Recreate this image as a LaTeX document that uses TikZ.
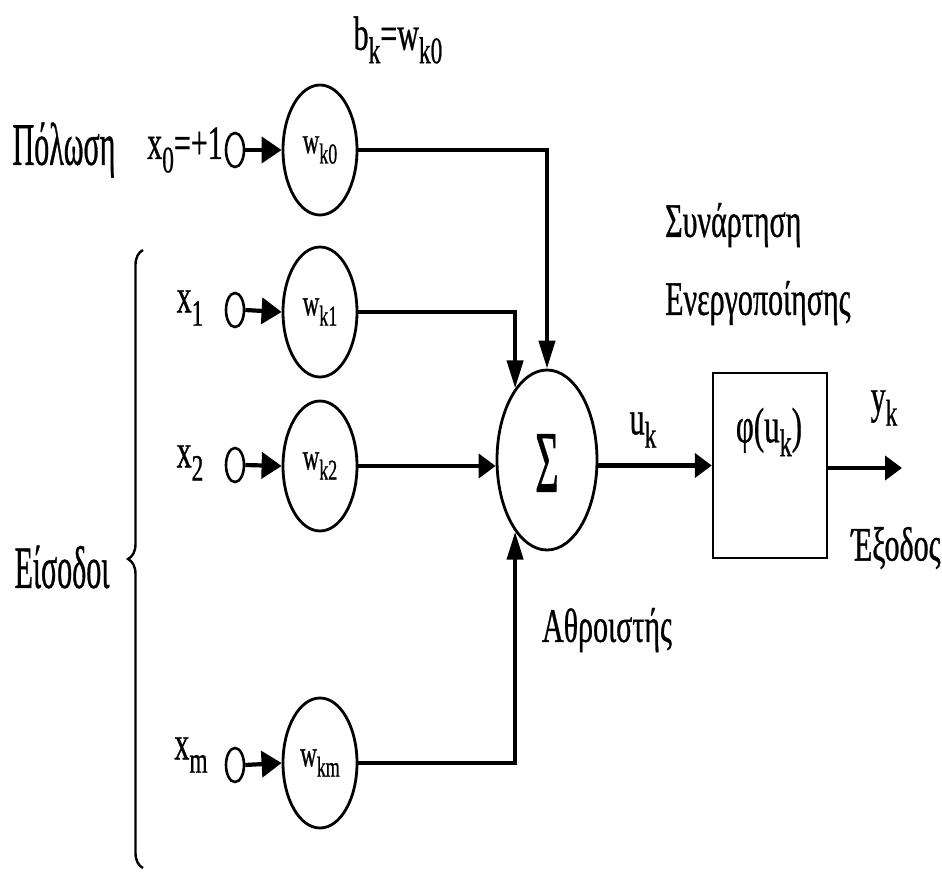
\documentclass[tikz,border=0pt]{standalone}
\usepackage{fontspec}
\setmainfont[FakeBold=0.9]{Liberation Serif}
\usepackage{graphicx}
\usetikzlibrary{shapes.geometric,arrows.meta,decorations.pathreplacing}
\newcommand{\vs}[1]{\scalebox{1}[1.6]{#1}}
\newcommand{\vt}[1]{\scalebox{1}[2.0]{#1}}
\newcommand{\sbs}[1]{\raisebox{-0.28em}{\scalebox{0.78}{#1}}}
\begin{document}
\begin{tikzpicture}[x=1pt,y=-1pt,
  lbl/.style={font=\fontsize{30}{30}\selectfont, inner sep=0pt},
  wnode/.style={ellipse, draw, line width=2.8pt, minimum width=74pt, minimum height=130pt, inner sep=0pt, font=\fontsize{23}{23}\selectfont},
  inp/.style={ellipse, draw, line width=2.6pt, minimum width=18pt, minimum height=34pt, inner sep=0pt},
  conn/.style={line width=4.2pt},
  harr/.style={conn, -{Triangle[length=17pt,width=24pt]}},
  iarr/.style={conn, -{Triangle[length=20pt,width=26pt]}},
  varr/.style={conn, -{Triangle[length=28pt,width=16pt]}},
]
\useasboundingbox (0,0) rectangle (942,873);
% bias row
\node[lbl] (pol) at (64,150) {\vt{Πόλωση}};
\node[lbl] (x0) at (185,150) {\vs{x\sbs{0}=+1}};
\node[inp] (s0) at (235,150) {};
\node[wnode] (w0) at (320,150) {\vs{w\sbs{k0}}};
\node[lbl] (bk) at (398,40) {\vs{b\sbs{k}=w\sbs{k0}}};
% inputs
\node[lbl] (x1) at (190,308) {\vs{x\sbs{1}}};
\node[inp] (s1) at (235,310) {};
\node[wnode] (w1) at (320,312) {\vs{w\sbs{k1}}};
\node[lbl] (x2) at (190,463) {\vs{x\sbs{2}}};
\node[inp] (s2) at (235,465) {};
\node[wnode] (w2) at (320,466) {\vs{w\sbs{k2}}};
\node[lbl] (xm) at (191,755) {\vs{x\sbs{m}}};
\node[inp] (sm) at (235,765) {};
\node[wnode] (wm) at (320,763) {\vs{w\sbs{km}}};
% summation
\node[ellipse, draw, line width=2.8pt, minimum width=100pt, minimum height=180pt, inner sep=0pt] (sum) at (547,460) {};
\node[lbl, font=\fontsize{40}{40}\selectfont] (sig) at (547,463) {\scalebox{1}[2.2]{Σ}};
\node[lbl] (uk) at (643,430) {\vs{u\sbs{k}}};
% activation
\node[draw, line width=2.4pt, minimum width=114pt, minimum height=185pt, inner sep=0pt] (phi) at (770,465.5) {};
\node[lbl, font=\fontsize{31}{31}\selectfont] (phit) at (769,432) {\vs{φ(u\sbs{k})}};
\node[lbl] (yk) at (884,408) {\vs{y\sbs{k}}};
\coordinate (out) at (902,468);
\node[lbl] (exo) at (896,548) {\vs{Έξοδος}};
\node[lbl] (athr) at (607,630) {\vs{Αθροιστής}};
\node[lbl, anchor=west] (syn) at (665,225) {\vs{Συνάρτηση}};
\node[lbl, anchor=west] (ener) at (665,303) {\vs{Ενεργοποίησης}};
\node[lbl] (eis) at (62,567) {\vt{Είσοδοι}};
\draw[line width=2.4pt, decorate, decoration={brace, amplitude=15pt}] (143,868) -- (143,250);
% connectors
\draw[iarr] (s0.east) -- (w0.west);
\draw[iarr] (s1.east) -- (w1.west);
\draw[iarr] (s2.east) -- (w2.west);
\draw[iarr] (sm.east) -- (wm.west);
\draw[varr] (w0.east) -| (sum.north);
\draw[varr] (w1.east) -| (sum.114);
\draw[harr] (w2.east) -- (w2.east -| sum.west);
\draw[varr] (wm.east) -| (sum.246);
\draw[harr] (sum.east |- phi.west) -- (phi.west);
\draw[harr] (phi.east |- out) -- (out);
\end{tikzpicture}
\end{document}
